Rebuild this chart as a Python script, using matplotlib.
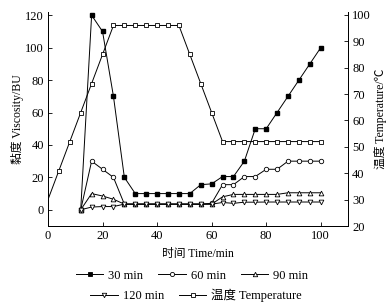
import matplotlib.pyplot as plt
from matplotlib.lines import Line2D

plt.rcParams['font.family'] = ['Liberation Serif', 'Noto Sans CJK SC']
plt.rcParams['font.size'] = 8

# time points (min)
t_visc = [12, 16, 20, 24, 28, 32, 36, 40, 44, 48, 52, 56, 60,
          64, 68, 72, 76, 80, 84, 88, 92, 96, 100]
v30 = [0, 120, 110, 70, 20, 10, 10, 10, 10, 10, 10, 15.5, 16,
       20.5, 20.5, 30, 50, 50, 60, 70, 80, 90, 100]
v60 = [0, 30, 25, 20, 3.5, 3.5, 3.5, 3.5, 3.5, 3.5, 3.5, 3.5, 4,
       15.5, 15.5, 20.5, 20.5, 25, 25, 30, 30, 30, 30]
v90 = [0, 10, 8.5, 6.5, 3.5, 3.5, 3.5, 3.5, 3.5, 3.5, 3.5, 3.5, 3.5,
       8, 9.5, 9.5, 9.5, 9.5, 9.5, 10.5, 10.5, 10.5, 10.5]
v120 = [0, 1.7, 2, 2, 3.5, 3.5, 3.5, 3.5, 3.5, 3.5, 3.5, 3.5, 3.5,
        4.5, 4, 4.7, 4.7, 4.8, 4.8, 4.8, 4.8, 4.8, 4.8]

t_temp = [0, 4, 8, 12, 16, 20, 24, 28, 32, 36, 40, 44, 48, 52, 56, 60,
          64, 68, 72, 76, 80, 84, 88, 92, 96, 100]
temp = [30, 41, 52, 63, 74, 85, 96, 96, 96, 96, 96, 96, 96, 85, 74, 63,
        52, 52, 52, 52, 52, 52, 52, 52, 52, 52]

fig = plt.figure(figsize=(3.92, 3.08), dpi=100)
ax = fig.add_axes([0.1224, 0.2662, 0.7654, 0.6948])
ax2 = ax.twinx()

lw = 0.7
ax.plot(t_visc, v30, '-', color='black', lw=lw, marker='s', ms=3.2,
        mfc='black', mec='black')
ax.plot(t_visc, v60, '-', color='black', lw=lw, marker='o', ms=3.2,
        mfc='white', mec='black', mew=0.6)
ax.plot(t_visc, v90, '-', color='black', lw=lw, marker='^', ms=3.4,
        mfc='white', mec='black', mew=0.6)
ax.plot(t_visc, v120, '-', color='black', lw=lw, marker='v', ms=3.4,
        mfc='white', mec='black', mew=0.6)
ax2.plot(t_temp, temp, '-', color='black', lw=lw, marker='s', ms=3.0,
         mfc='white', mec='black', mew=0.6, markevery=list(range(1, len(t_temp))))

ax.set_xlim(0, 110)
ax.set_ylim(-10, 122)
ax2.set_ylim(20, 101.1)
ax.set_xticks([0, 20, 40, 60, 80, 100])
ax.set_yticks([0, 20, 40, 60, 80, 100, 120])
ax2.set_yticks([20, 30, 40, 50, 60, 70, 80, 90, 100])

for a in (ax, ax2):
    a.spines['top'].set_visible(False)
    for s in a.spines.values():
        s.set_linewidth(0.7)
    a.tick_params(direction='in', length=3, width=0.6, labelsize=9, pad=3)
ax.tick_params(top=False, right=False)

ax.set_xlabel('时间 Time/min', fontsize=8.5, labelpad=4)
ax.set_ylabel('黏度 Viscosity/BU', fontsize=8.5, labelpad=1)
ax2.set_ylabel('温度 Temperature/℃', fontsize=8.5, labelpad=2)

def handle(marker, mfc, ms):
    return Line2D([], [], color='black', lw=lw, marker=marker, ms=ms,
                  mfc=mfc, mec='black', mew=0.6)

row1 = [handle('s', 'black', 3.2), handle('o', 'white', 3.0), handle('^', 'white', 3.2)]
row2 = [handle('v', 'white', 3.2), handle('s', 'white', 3.0)]
kw = dict(frameon=False, fontsize=9, handlelength=2.2, handletextpad=0.4,
          columnspacing=1.2, borderpad=0)
fig.legend(row1, ['30 min', '60 min', '90 min'], ncol=3, loc='center',
           bbox_to_anchor=(0.49, 0.105), **kw)
fig.legend(row2, ['120 min', '温度 Temperature'], ncol=2, loc='center',
           bbox_to_anchor=(0.5, 0.04), **kw)

fig.savefig('out.png', dpi=100)
